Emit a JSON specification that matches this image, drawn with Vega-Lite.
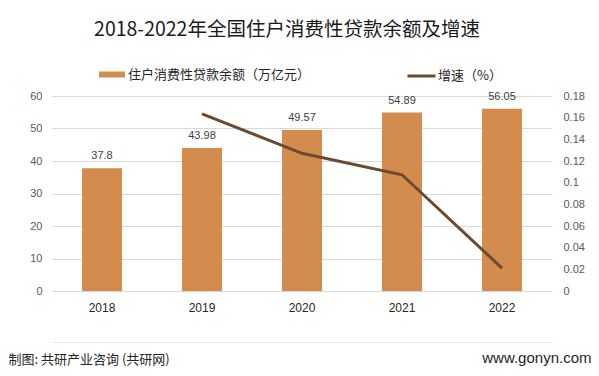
{
  "$schema": "https://vega.github.io/schema/vega-lite/v6.json",
  "width": 500,
  "height": 195,
  "autosize": {"type": "none"},
  "padding": {"left": 52, "top": 96, "right": 47, "bottom": 85},
  "background": "white",
  "title": {
    "text": "2018-2022年全国住户消费性贷款余额及增速",
    "anchor": "middle",
    "frame": "group",
    "dx": -15,
    "offset": 5,
    "baseline": "alphabetic",
    "font": "Noto Sans CJK SC",
    "fontSize": 19.5,
    "fontWeight": "normal",
    "color": "#1a1a1a"
  },
  "data": {
    "values": [
      {"year": "2018", "value": 37.8, "growth": null},
      {"year": "2019", "value": 43.98, "growth": 0.1635},
      {"year": "2020", "value": 49.57, "growth": 0.1271},
      {"year": "2021", "value": 54.89, "growth": 0.1073},
      {"year": "2022", "value": 56.05, "growth": 0.0211}
    ]
  },
  "layer": [
    {
      "encoding": {
        "x": {
          "field": "year",
          "type": "ordinal",
          "scale": {"paddingInner": 0.6, "paddingOuter": 0.3},
          "axis": {
            "labelAngle": 0,
            "labelFont": "Liberation Sans",
            "labelFontSize": 12,
            "labelColor": "#262626",
            "labelPadding": 11,
            "ticks": false,
            "domain": false,
            "title": "制图: 共研产业咨询 (共研网)",
            "titleFont": "Noto Sans CJK SC",
            "titleFontSize": 13,
            "titleFontWeight": "normal",
            "titleColor": "#262626",
            "titleX": -44,
            "titleY": 72,
            "titleAlign": "left",
            "titleBaseline": "alphabetic",
            "titleAnchor": null
          }
        },
        "y": {
          "field": "value",
          "type": "quantitative",
          "scale": {"domain": [0, 60]},
          "axis": {
            "values": [0, 10, 20, 30, 40, 50, 60],
            "labelFont": "Liberation Sans",
            "labelFontSize": 11,
            "labelColor": "#595959",
            "labelPadding": 10,
            "labelOverlap": false,
            "ticks": false,
            "domain": false,
            "grid": true,
            "gridColor": "#d9d9d9",
            "title": null
          }
        }
      },
      "layer": [
        {
          "mark": {"type": "bar"},
          "encoding": {
            "color": {
              "datum": "住户消费性贷款余额（万亿元）",
              "type": "nominal",
              "scale": {"range": ["#D38B4E"]},
              "legend": {
                "title": null,
                "orient": "none",
                "legendX": 47,
                "legendY": -34.5,
                "symbolType": "M-1,-0.23H1V0.23H-1Z",
                "symbolSize": 676,
                "symbolStrokeWidth": 0,
                "labelOffset": 3
              }
            }
          }
        },
        {
          "mark": {"type": "text", "baseline": "alphabetic", "dy": -9, "font": "Liberation Sans", "fontSize": 11, "color": "#404040"},
          "encoding": {
            "text": {"field": "value", "type": "quantitative"}
          }
        }
      ]
    },
    {
      "transform": [{"filter": "datum.growth != null"}],
      "mark": {"type": "line", "strokeWidth": 3},
      "encoding": {
        "x": {
          "field": "year",
          "type": "ordinal",
          "axis": {
            "orient": "bottom",
            "offset": 51,
            "labels": false,
            "ticks": false,
            "grid": false,
            "domain": true,
            "domainColor": "#e6e6e6",
            "domainWidth": 1,
            "title": null
          }
        },
        "y": {
          "field": "growth",
          "type": "quantitative",
          "scale": {"domain": [0, 0.18]},
          "axis": {
            "orient": "right",
            "values": [0, 0.02, 0.04, 0.06, 0.08, 0.1, 0.12, 0.14, 0.16, 0.18],
            "format": "~g",
            "labelFont": "Liberation Sans",
            "labelFontSize": 11,
            "labelColor": "#595959",
            "labelPadding": 11,
            "labelOverlap": false,
            "ticks": false,
            "domain": false,
            "grid": false,
            "title": "www.gonyn.com",
            "titleAngle": 0,
            "titleFont": "Liberation Sans",
            "titleFontSize": 15,
            "titleFontWeight": "normal",
            "titleColor": "#262626",
            "titleX": 39,
            "titleY": 266,
            "titleAlign": "right",
            "titleBaseline": "alphabetic",
            "titleAnchor": null
          }
        },
        "stroke": {
          "datum": "增速（%）",
          "type": "nominal",
          "scale": {"range": ["#6B4A2F"]},
          "legend": {
            "title": null,
            "orient": "none",
            "legendX": 354,
            "legendY": -35.5,
            "symbolType": "stroke",
            "symbolSize": 784,
            "symbolStrokeWidth": 3,
            "labelOffset": 1
          }
        }
      }
    }
  ],
  "resolve": {"scale": {"y": "independent"}, "axis": {"x": "independent"}},
  "config": {
    "view": {"stroke": null},
    "legend": {
      "padding": 0,
      "labelFont": "Noto Sans CJK SC",
      "labelFontSize": 13,
      "labelColor": "#262626",
      "labelLimit": 300
    }
  }
}
